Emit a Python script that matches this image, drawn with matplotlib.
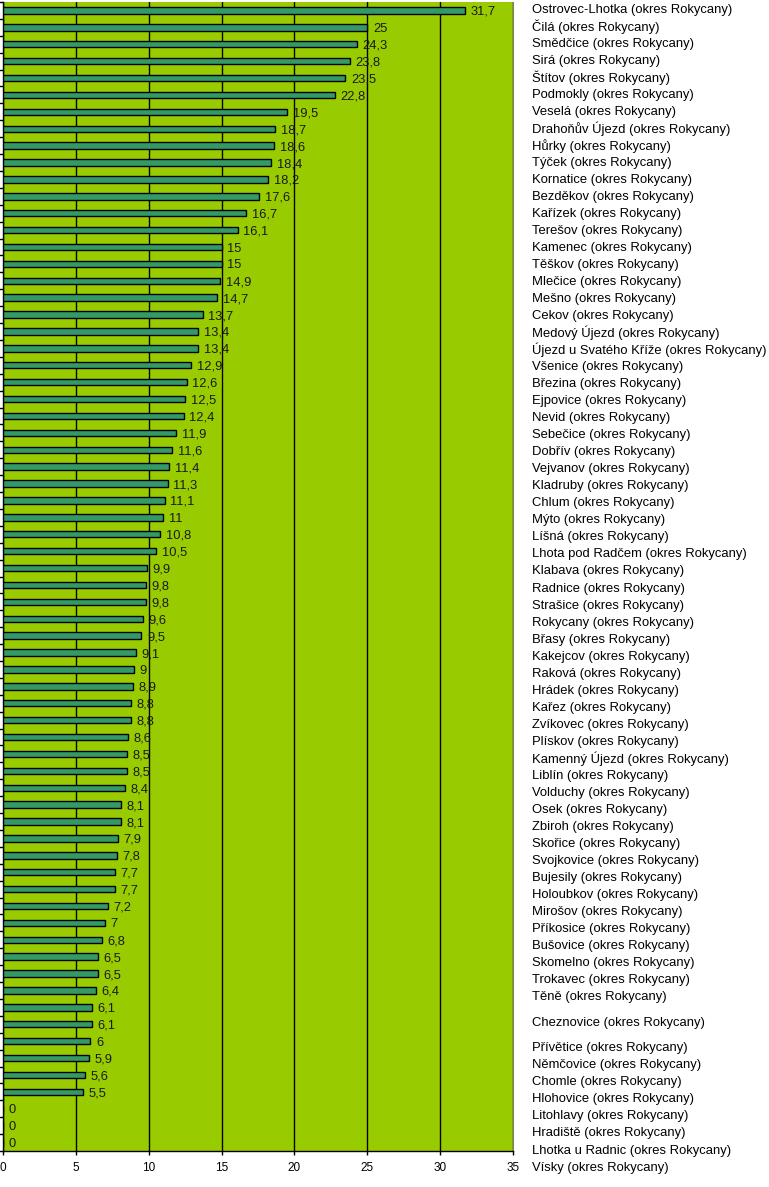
import numpy as np
import matplotlib
matplotlib.use("Agg")
from matplotlib import pyplot as plt

# municipality names (top to bottom)
names = [
    "Ostrovec-Lhotka", "Čilá", "Smědčice", "Sirá", "Štítov", "Podmokly", "Veselá",
    "Drahoňův Újezd", "Hůrky", "Týček", "Kornatice", "Bezděkov", "Kařízek", "Terešov",
    "Kamenec", "Těškov", "Mlečice", "Mešno", "Cekov", "Medový Újezd",
    "Újezd u Svatého Kříže", "Všenice", "Březina", "Ejpovice", "Nevid", "Sebečice",
    "Dobřív", "Vejvanov", "Kladruby", "Chlum", "Mýto", "Líšná", "Lhota pod Radčem",
    "Klabava", "Radnice", "Strašice", "Rokycany", "Břasy", "Kakejcov", "Raková",
    "Hrádek", "Kařez", "Zvíkovec", "Plískov", "Kamenný Újezd", "Liblín", "Volduchy",
    "Osek", "Zbiroh", "Skořice", "Svojkovice", "Bujesily", "Holoubkov", "Mirošov",
    "Příkosice", "Bušovice", "Skomelno", "Trokavec", "Těně", "Cheznovice",
    "Přívětice", "Němčovice", "Chomle", "Hlohovice", "Litohlavy", "Hradiště",
    "Lhotka u Radnic", "Vísky",
]
suffix = " (okres Rokycany)"

values = [
    31.7, 25, 24.3, 23.8, 23.5, 22.8, 19.5, 18.7, 18.6, 18.4,
    18.2, 17.6, 16.7, 16.1, 15, 15, 14.9, 14.7, 13.7, 13.4,
    13.4, 12.9, 12.6, 12.5, 12.4, 11.9, 11.6, 11.4, 11.3, 11.1,
    11, 10.8, 10.5, 9.9, 9.8, 9.8, 9.6, 9.5, 9.1, 9,
    8.9, 8.8, 8.8, 8.6, 8.5, 8.5, 8.4, 8.1, 8.1, 7.9,
    7.8, 7.7, 7.7, 7.2, 7, 6.8, 6.5, 6.5, 6.4, 6.1,
    6.1, 6, 5.9, 5.6, 5.5, 0, 0, 0,
]

x_ticks = [0, 5, 10, 15, 20, 25, 30, 35]

W, H, DPI = 769, 1187, 100
fig = plt.figure(figsize=(W / DPI, H / DPI), dpi=DPI)
fig.patch.set_facecolor("white")

# plot area in pixels
left_px, right_px, top_px, bottom_px = 3, 513, 2, 1151
ax = fig.add_axes([left_px / W, 1 - bottom_px / H,
                   (right_px - left_px) / W, (bottom_px - top_px) / H])
ax.set_facecolor("#99CC00")

n = len(values)
y = np.arange(n)
ax.barh(y, values, height=0.38, color="#339966", edgecolor="black",
        linewidth=1.0, zorder=3)

ax.set_xlim(0, 35)
ax.set_ylim(n - 0.5, -0.5)
ax.set_xticks(x_ticks)
ax.set_xticklabels([str(t) for t in x_ticks], fontsize=8.5,
                   family="Liberation Sans")
ax.xaxis.grid(True, color="black", linewidth=1.0, zorder=1)
ax.set_axisbelow(True)

ax.set_yticks(np.arange(n + 1) - 0.5)
ax.set_yticklabels([])
ax.tick_params(axis="y", direction="out", length=3, width=1, color="black")
ax.tick_params(axis="x", direction="out", length=3, width=1, color="black", pad=5)

ax.spines["top"].set_visible(False)
ax.spines["right"].set_color("#808080")
ax.spines["left"].set_linewidth(1.0)
ax.spines["bottom"].set_linewidth(1.0)

# value labels with Czech decimal comma
def fmt(v):
    return f"{v:g}".replace(".", ",")

for i, v in enumerate(values):
    ax.annotate(fmt(v), (v, i), xytext=(4, 0), textcoords="offset points",
                ha="left", va="center_baseline", fontsize=9.3, color="#1a1a1a",
                family="Liberation Sans", zorder=4)

# right-hand name column (Cheznovice row is double height in source table)
rows = np.arange(n, dtype=float)
rows[59] += 0.5
rows[60:] += 1.0
row_px = 17.03
first_px = 8
lab = fig.add_axes([0, 0, 1, 1])
lab.set_xlim(0, W)
lab.set_ylim((H - first_px) / row_px, -first_px / row_px)
lab.axis("off")
for r, name in zip(rows, names):
    lab.text(532, r, name + suffix, ha="left", va="center_baseline", fontsize=9.4,
             color="black", family="Liberation Sans")

fig.savefig("out.png", dpi=DPI)
